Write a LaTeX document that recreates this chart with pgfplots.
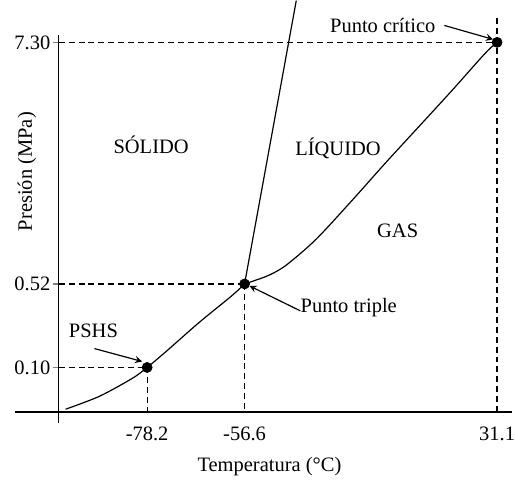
\documentclass[border=0pt]{standalone}
\usepackage{fontspec}
\setmainfont{Liberation Serif}
\usepackage{pgfplots}
\pgfplotsset{compat=1.18}
\begin{document}
\begin{tikzpicture}[font=\fontsize{10.3}{12}\selectfont]
\begin{axis}[
  x=0.5pt, y=0.5pt,
  xmin=-44, xmax=456, ymin=-11, ymax=379,
  axis lines=middle,
  axis line style={-, line width=0.8pt},
  clip=false,
  xtick={89,187,441},
  xticklabels={-78.2,-56.6,31.1},
  ytick={45,129,372},
  yticklabels={0.10,0.52,7.30},
  xtick style={draw=none},
  ytick style={line width=0.6pt},
  major tick length=3pt,
  tick align=outside,
  xticklabel style={anchor=north, yshift=-4pt, inner sep=0pt},
  yticklabel style={anchor=east, xshift=-1pt, inner sep=0pt},
]
\path (axis cs:-59,-66) rectangle (axis cs:456,414);
% dashed guide lines
\addplot[black, line width=0.6pt, dash pattern=on 3pt off 2pt] coordinates {(0,372) (441,372)};
\addplot[black, line width=0.6pt, dash pattern=on 3pt off 2pt] coordinates {(441,396) (441,0)};
\addplot[black, line width=0.6pt, dash pattern=on 3pt off 2pt] coordinates {(0,129) (187,129)};
\addplot[black, line width=0.6pt, dash pattern=on 3pt off 2pt] coordinates {(187,129) (187,0)};
\addplot[black, line width=0.6pt, dash pattern=on 3pt off 2pt] coordinates {(0,45) (89,45)};
\addplot[black, line width=0.6pt, dash pattern=on 3pt off 2pt] coordinates {(89,45) (89,0)};
% sublimation curve
\addplot[black, line width=0.6pt, smooth, tension=0.5] coordinates {
 (7,3) (41,16) (74,34) (89,45) (108,61) (141,90) (174,117) (187,129)};
% vaporization curve
\addplot[black, line width=0.6pt, smooth, tension=0.5] coordinates {
 (187,129) (196,132) (212,138) (229,148) (259,174) (296,214) (329,251) (363,288) (396,324) (429,361) (441,372)};
% fusion curve
\addplot[black, line width=0.6pt] coordinates {(187,129) (239,414)};
% points
\addplot[only marks, mark=*, mark size=2.5pt, black] coordinates {(89,45) (187,129) (441,372)};
% arrows
\addplot[black, line width=0.6pt, -stealth] coordinates {(388,389) (437,375)};
\addplot[black, line width=0.6pt, -stealth] coordinates {(243,102) (192,127)};
\addplot[black, line width=0.6pt, -stealth] coordinates {(36,64) (84,51)};
% labels
\node at (axis cs:93,269) {SÓLIDO};
\node at (axis cs:281,265) {LÍQUIDO};
\node at (axis cs:341,182) {GAS};
\node at (axis cs:35,82) {PSHS};
\node[anchor=west, inner sep=0pt] at (axis cs:243,105) {Punto triple};
\node at (axis cs:326,389) {Punto crítico};
\node at (axis cs:212,-55) {Temperatura (°C)};
\node[rotate=90] at (axis cs:-32,242) {Presión (MPa)};
\end{axis}
\end{tikzpicture}
\end{document}
